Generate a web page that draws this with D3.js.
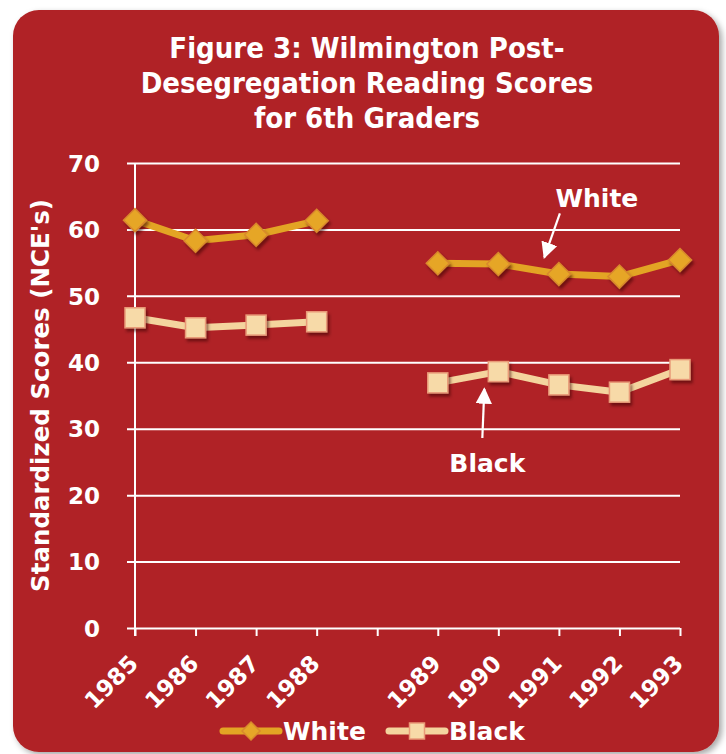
<!DOCTYPE html>
<html>
<head>
<meta charset="utf-8">
<script src="https://cdn.jsdelivr.net/npm/d3@7/dist/d3.min.js"></script>
<style>
  html, body { margin: 0; padding: 0; background: #ffffff; }
  svg { display: block; }
</style>
</head>
<body>
<svg id="chart" width="726" height="754"></svg>
<script>
// ---------- data ----------
const titleLines = ["Figure 3: Wilmington Post-", "Desegregation Reading Scores", "for 6th Graders"];
const years = ["1985", "1986", "1987", "1988", "gap", "1989", "1990", "1991", "1992", "1993"];
const whiteScores = [61.4, 58.3, 59.2, 61.3, null, 54.9, 54.8, 53.3, 52.9, 55.4];
const blackScores = [46.7, 45.2, 45.6, 46.1, null, 36.9, 38.6, 36.6, 35.5, 38.9];
const yTicks = [0, 10, 20, 30, 40, 50, 60, 70];
const yLabel = "Standardized Scores (NCE's)";
const seriesNames = ["White", "Black"];

// ---------- setup ----------
const svg = d3.select("#chart");
const FONT = "'DejaVu Sans', sans-serif";
const red = "#B02325";
const goldLine = "#E3A424", goldFill = "#E6A628", goldStroke = "#D9892C";
const tanLine = "#F4D49E", tanFill = "#F7DAA8", tanStroke = "#E99A78";

const defs = svg.append("defs");
const sh = defs.append("filter").attr("id", "panelShadow").attr("x", "-5%").attr("y", "-5%").attr("width", "110%").attr("height", "110%");
sh.append("feDropShadow").attr("dx", 3).attr("dy", 3).attr("stdDeviation", 3).attr("flood-color", "#000").attr("flood-opacity", 0.35);
const ms = defs.append("filter").attr("id", "markShadow").attr("x", "-50%").attr("y", "-50%").attr("width", "200%").attr("height", "200%");
ms.append("feDropShadow").attr("dx", 2).attr("dy", 3).attr("stdDeviation", 1.6).attr("flood-color", "#3a0000").attr("flood-opacity", 0.55);
defs.append("marker").attr("id", "arrowHead").attr("viewBox", "0 0 10 10").attr("refX", 9).attr("refY", 5)
  .attr("markerWidth", 7.5).attr("markerHeight", 7.5).attr("markerUnits", "strokeWidth").attr("orient", "auto")
  .append("path").attr("d", "M0,0 L10,5 L0,10 Z").attr("fill", "#fff");

// panel
svg.append("rect").attr("x", 13).attr("y", 10).attr("width", 706).attr("height", 742)
  .attr("rx", 26).attr("ry", 26).attr("fill", red).attr("filter", "url(#panelShadow)");

// title
const title = svg.append("text").attr("text-anchor", "middle").attr("fill", "#fff")
  .attr("font-family", "'DejaVu Sans Condensed', 'DejaVu Sans', sans-serif")
  .attr("font-weight", "bold").attr("font-size", 29);
titleLines.forEach((t, i) => {
  title.append("tspan").attr("x", 367).attr("y", 58 + i * 35).text(t);
});

// scales
const x = d3.scalePoint().domain(years).range([135, 680]);
const y = d3.scaleLinear().domain([0, 70]).range([628, 163]);

// y gridlines + labels
const yAxis = svg.append("g").attr("transform", "translate(127,0)")
  .call(d3.axisLeft(y).tickValues(yTicks).tickSize(-(x.range()[1] - 127)).tickPadding(27));
yAxis.select(".domain").remove();
yAxis.selectAll(".tick line").attr("stroke", "#fff").attr("stroke-width", 2);
yAxis.selectAll(".tick text").attr("fill", "#fff").attr("font-family", FONT)
  .attr("font-weight", "bold").attr("font-size", 23).attr("dy", "0.36em");

// x axis ticks
const xAxis = svg.append("g").attr("transform", `translate(0,${y(0)})`)
  .call(d3.axisBottom(x).tickSize(8).tickFormat(d => d === "gap" ? "" : d));
xAxis.select(".domain").remove();
xAxis.selectAll(".tick line").attr("stroke", "#fff").attr("stroke-width", 2);
xAxis.selectAll(".tick text")
  .attr("fill", "#fff").attr("font-family", FONT).attr("font-weight", "bold").attr("font-size", 23)
  .attr("text-anchor", "end").attr("y", 0).attr("dy", 0)
  .attr("transform", "translate(4,37) rotate(-45)");

// vertical y axis line
svg.append("line").attr("x1", x(years[0])).attr("x2", x(years[0]))
  .attr("y1", y(70)).attr("y2", y(0) + 8).attr("stroke", "#fff").attr("stroke-width", 2);

// y axis title
svg.append("text").attr("transform", `translate(49,${(y(0) + y(70)) / 2}) rotate(-90)`)
  .attr("text-anchor", "middle").attr("fill", "#fff").attr("font-family", FONT)
  .attr("font-weight", "bold").attr("font-size", 24.5).text(yLabel);

// lines
const line = d3.line().defined(d => d.v !== null).x(d => x(d.k)).y(d => y(d.v));
const whiteData = years.map((k, i) => ({ k, v: whiteScores[i] }));
const blackData = years.map((k, i) => ({ k, v: blackScores[i] }));

svg.append("path").datum(whiteData).attr("d", line).attr("fill", "none")
  .attr("stroke", goldLine).attr("stroke-width", 7).attr("stroke-linejoin", "round");
svg.append("path").datum(blackData).attr("d", line).attr("fill", "none")
  .attr("stroke", tanLine).attr("stroke-width", 7).attr("stroke-linejoin", "round");

const diamond = s => `M0,${-s} L${s},0 L0,${s} L${-s},0 Z`;
svg.append("g").selectAll("path").data(whiteData.filter(d => d.v !== null)).join("path")
  .attr("transform", d => `translate(${x(d.k)},${y(d.v)})`)
  .attr("d", diamond(11.5)).attr("fill", goldFill).attr("stroke", goldStroke).attr("stroke-width", 1.5)
  .attr("filter", "url(#markShadow)");
svg.append("g").selectAll("rect").data(blackData.filter(d => d.v !== null)).join("rect")
  .attr("x", d => x(d.k) - 10).attr("y", d => y(d.v) - 10).attr("width", 20).attr("height", 20)
  .attr("fill", tanFill).attr("stroke", tanStroke).attr("stroke-width", 1.5)
  .attr("filter", "url(#markShadow)");

// annotations (positioned in data space)
function annot(label, lx, ly, fromX, fromV, toX, toV) {
  svg.append("line")
    .attr("x1", fromX).attr("y1", y(fromV)).attr("x2", toX).attr("y2", y(toV))
    .attr("stroke", "#fff").attr("stroke-width", 2.2).attr("marker-end", "url(#arrowHead)");
  svg.append("text").attr("x", lx).attr("y", ly).attr("text-anchor", "middle")
    .attr("fill", "#fff").attr("font-family", FONT).attr("font-weight", "bold").attr("font-size", 25)
    .text(label);
}
annot(seriesNames[0], x("1991") + 38, y(63.4), x("1991") + 1, 62.4, x("1990") + 46, 55.8);
annot(seriesNames[1], x("1990") - 11, y(23.5), x("1990") - 16, 28.6, x("1990") - 14, 36.0);

// legend
const lg = svg.append("g");
const legendItems = [
  { name: seriesNames[0], x0: 223, lineC: goldLine, shape: "diamond" },
  { name: seriesNames[1], x0: 389, lineC: tanLine, shape: "square" }
];
legendItems.forEach(it => {
  const ly = 731;
  lg.append("line").attr("x1", it.x0).attr("x2", it.x0 + 56).attr("y1", ly).attr("y2", ly)
    .attr("stroke", it.lineC).attr("stroke-width", 7).attr("stroke-linecap", "round");
  if (it.shape === "diamond") {
    lg.append("path").attr("transform", `translate(${it.x0 + 28},${ly})`).attr("d", diamond(9))
      .attr("fill", goldFill).attr("stroke", goldStroke).attr("stroke-width", 1.5);
  } else {
    lg.append("rect").attr("x", it.x0 + 28 - 7.5).attr("y", ly - 8).attr("width", 15).attr("height", 16)
      .attr("fill", tanFill).attr("stroke", tanStroke).attr("stroke-width", 1.5);
  }
  lg.append("text").attr("x", it.x0 + 60).attr("y", ly + 9).attr("fill", "#fff")
    .attr("font-family", FONT).attr("font-weight", "bold").attr("font-size", 25).text(it.name);
});
</script>
</body>
</html>
